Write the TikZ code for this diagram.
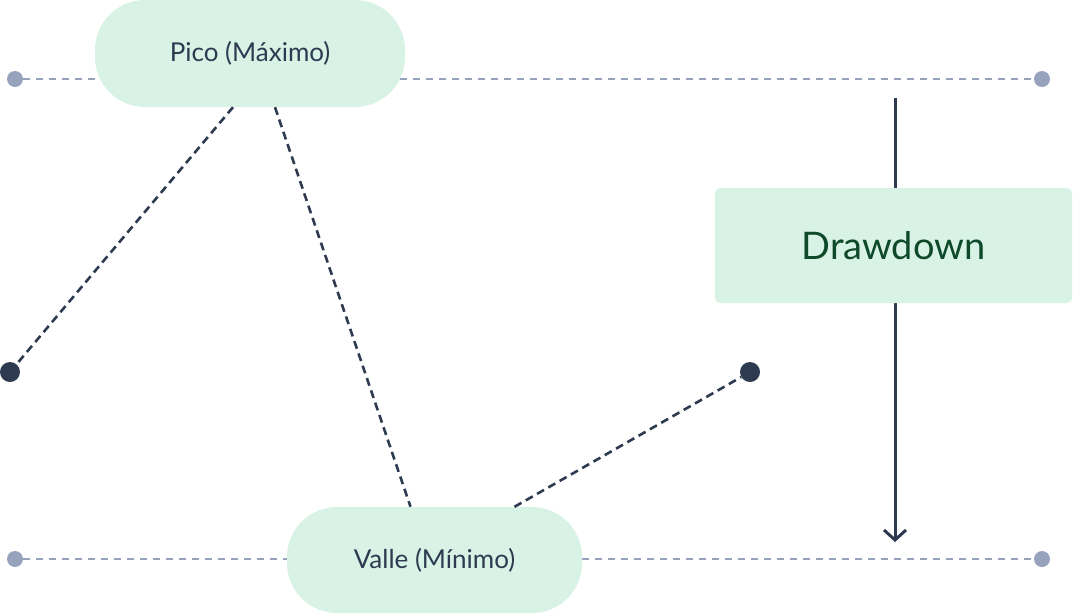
\documentclass[tikz,border=0pt]{standalone}
\usepackage{fontspec}
\setmainfont{Lato}
\usetikzlibrary{arrows.meta}
\definecolor{pill}{HTML}{D9F2E6}
\definecolor{ink}{HTML}{2D3A50}
\definecolor{guide}{HTML}{97A3BC}
\definecolor{dgreen}{HTML}{0E4A2A}
\begin{document}
\begin{tikzpicture}[x=1pt,y=-1pt,
  pillst/.style={fill=pill,rounded corners=50pt,inner sep=0pt,text=ink,font=\fontsize{26}{30}\selectfont},
  guideline/.style={guide,line width=2.2pt,dash pattern=on 7pt off 6pt},
  gdot/.style={circle,fill=guide,inner sep=0pt,minimum size=16pt},
  ddot/.style={circle,fill=ink,inner sep=0pt,minimum size=20pt},
  dline/.style={ink,line width=2.6pt,dash pattern=on 8pt off 5pt}]
\useasboundingbox (0,0) rectangle (1073,614);
\node[gdot] (g1) at (15,79) {};
\node[gdot] (g2) at (1042,79) {};
\node[gdot] (g3) at (15,559) {};
\node[gdot] (g4) at (1042,559) {};
\draw[guideline] (g1) -- (g2);
\draw[guideline] (g3) -- (g4);
\coordinate (as) at (895,98);
\coordinate (ae) at (895,542);
\draw[ink,line width=3pt,-{Straight Barb[length=10pt,width=22pt,line width=3pt]}] (as) -- (ae);
\node[pillst,minimum width=310pt,minimum height=107pt] (pico) at (250,53.5) {Pico (Máximo)};
\node[pillst,minimum width=295pt,minimum height=106pt] (valle) at (434.5,560) {Valle (Mínimo)};
\node[fill=pill,rounded corners=5pt,minimum width=357pt,minimum height=115pt,text=dgreen,font=\fontsize{38}{44}\selectfont] (dd) at (893.5,245.5) {Drawdown};
\node[ddot] (d1) at (10,372) {};
\node[ddot] (d2) at (750,372) {};
\draw[dline] ([xshift=-17pt]pico.south) -- (d1);
\draw[dline] ([xshift=25pt]pico.south) -- ([xshift=-24pt]valle.north);
\draw[dline] ([xshift=80pt]valle.north) -- (d2);
\end{tikzpicture}
\end{document}
